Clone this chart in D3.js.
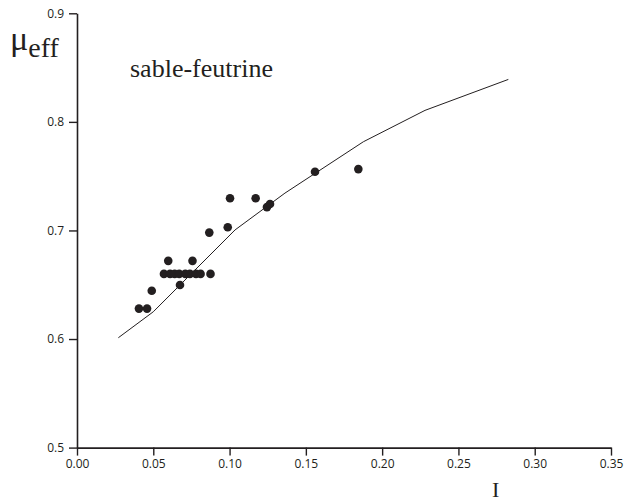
<!DOCTYPE html>
<html>
<head>
<meta charset="utf-8">
<script src="https://cdn.jsdelivr.net/npm/d3@7"></script>
<style>
  html, body { margin: 0; padding: 0; background: #fff; }
  svg { display: block; }
  .serif { font-family: "Liberation Serif", "Times New Roman", Times, serif; }
</style>
</head>
<body>
<svg id="chart" width="624" height="503"></svg>
<script>
// ---- data ----
const pointsI  = [0.0406, 0.0459, 0.0490, 0.0598, 0.0757, 0.0675,
                  0.057, 0.061, 0.064, 0.067, 0.071, 0.074, 0.078, 0.081,
                  0.0875, 0.0867, 0.0988, 0.1003, 0.1171, 0.1245, 0.1265, 0.156, 0.1844];
const pointsMu = [0.628, 0.628, 0.6445, 0.672, 0.672, 0.6497,
                  0.660, 0.660, 0.660, 0.660, 0.660, 0.660, 0.660, 0.660,
                  0.660, 0.698, 0.7029, 0.7296, 0.7296, 0.7215, 0.7243, 0.754, 0.7565];
const curveI  = [0.0271, 0.050, 0.1036, 0.1363, 0.1877, 0.2281, 0.2827];
const curveMu = [0.6012, 0.6251, 0.7005, 0.7344, 0.7817, 0.8106, 0.8391];
const xTicks = [0, 0.05, 0.10, 0.15, 0.20, 0.25, 0.30, 0.35];
const yTicks = [0.5, 0.6, 0.7, 0.8, 0.9];
const seriesLabel = "sable-feutrine";

// ---- layout ----
const svg = d3.select("#chart");
const x = d3.scaleLinear().domain([0, 0.35]).range([77, 611]);
const y = d3.scaleLinear().domain([0.5, 0.9]).range([447.6, 13.3]);
const ink = "#231f20";

// axes
const xAxis = svg.append("g")
  .attr("transform", `translate(0,${y(0.5)})`)
  .call(d3.axisBottom(x).tickValues(xTicks).tickFormat(d3.format(".2f")).tickSize(8).tickPadding(4).tickSizeOuter(0));
const yAxis = svg.append("g")
  .attr("transform", `translate(${x(0)},0)`)
  .call(d3.axisLeft(y).tickValues(yTicks).tickFormat(d3.format(".1f")).tickSize(8).tickPadding(5).tickSizeOuter(0));

[xAxis, yAxis].forEach(g => {
  g.select(".domain").attr("stroke", ink).attr("stroke-width", 1.6);
  g.selectAll(".tick line").attr("stroke", ink).attr("stroke-width", 1.4);
  g.selectAll(".tick text").attr("fill", ink)
    .style("font-family", "'Open Sans', 'DejaVu Sans', sans-serif").style("font-size", "12px");
});

// curve
const curveData = curveI.map((v, i) => [v, curveMu[i]]);
svg.append("path")
  .datum(curveData)
  .attr("fill", "none")
  .attr("stroke", ink)
  .attr("stroke-width", 1)
  .attr("d", d3.line().x(d => x(d[0])).y(d => y(d[1])));

// points
const ptData = pointsI.map((v, i) => [v, pointsMu[i]]);
svg.append("g").selectAll("circle")
  .data(ptData).join("circle")
  .attr("cx", d => x(d[0]))
  .attr("cy", d => y(d[1]))
  .attr("r", 4.3)
  .attr("fill", ink);

// labels
const mu = svg.append("text")
  .attr("class", "serif")
  .attr("x", 10).attr("y", 50)
  .attr("fill", ink);
mu.append("tspan").attr("font-size", 34).text("μ");
mu.append("tspan").attr("dy", 7).attr("font-size", 28).text("eff");

svg.append("text")
  .attr("class", "serif")
  .attr("x", 130).attr("y", 77)
  .attr("fill", ink)
  .attr("font-size", 26)
  .text(seriesLabel);

svg.append("text")
  .attr("class", "serif")
  .attr("x", 492).attr("y", 497)
  .attr("fill", ink)
  .attr("font-size", 22)
  .text("I");
</script>
</body>
</html>
